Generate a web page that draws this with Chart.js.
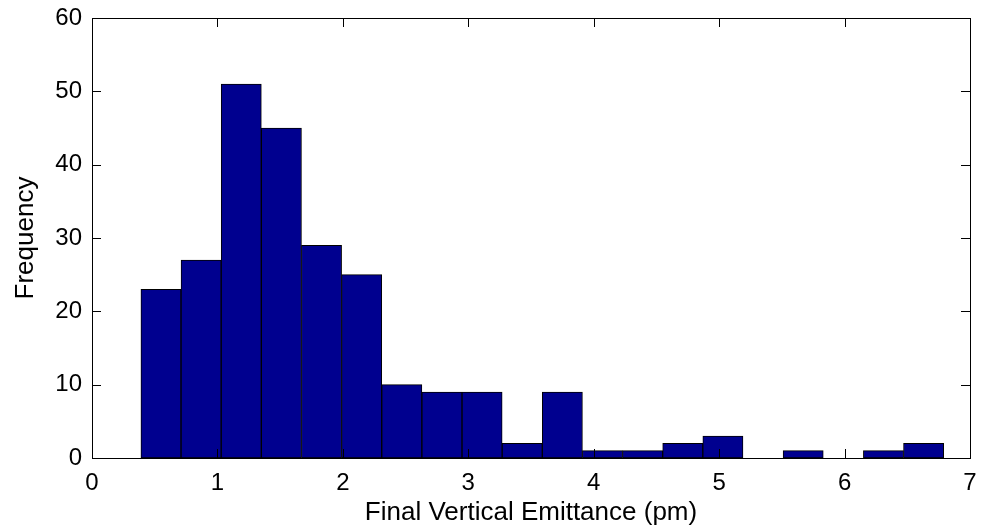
<!DOCTYPE html>
<html>
<head>
<meta charset="utf-8">
<script src="https://cdn.jsdelivr.net/npm/chart.js@4/dist/chart.umd.min.js"></script>
<style>
  html, body { margin: 0; padding: 0; background: #ffffff; }
  #wrap { width: 986px; height: 528px; }
</style>
</head>
<body>
<div id="wrap"><canvas id="c" width="986" height="528"></canvas></div>
<script>
// Histogram bin centres (pm) and counts
const binCenters = [0.55, 0.87, 1.19, 1.51, 1.83, 2.15, 2.47, 2.79, 3.11, 3.43,
                    3.75, 4.07, 4.39, 4.71, 5.03, 5.35, 5.67, 5.99, 6.31, 6.63];
const frequencies = [23, 27, 51, 45, 29, 25, 10, 9, 9, 2,
                     9, 1, 1, 2, 3, 0, 1, 0, 1, 2];
const xTicks = [0, 1, 2, 3, 4, 5, 6, 7];
const yTicks = [0, 10, 20, 30, 40, 50, 60];
const xTitle = 'Final Vertical Emittance (pm)';
const yTitle = 'Frequency';

const FONT = '"Liberation Sans", Arial, Helvetica, sans-serif';

const boxTicks = {
  id: 'boxTicks',
  afterDraw(chart) {
    const ctx = chart.ctx;
    const a = chart.chartArea;
    const xs = chart.scales.x, ys = chart.scales.y;
    const L = 9;
    ctx.save();
    ctx.strokeStyle = '#000000';
    ctx.lineWidth = 1;
    ctx.beginPath();
    xTicks.forEach(v => {
      const p = Math.round(xs.getPixelForValue(v)) + 0.5;
      ctx.moveTo(p, a.bottom); ctx.lineTo(p, a.bottom - L);
      ctx.moveTo(p, a.top); ctx.lineTo(p, a.top + L);
    });
    yTicks.forEach(v => {
      const p = Math.round(ys.getPixelForValue(v)) + 0.5;
      ctx.moveTo(a.left, p); ctx.lineTo(a.left + L, p);
      ctx.moveTo(a.right, p); ctx.lineTo(a.right - L, p);
    });
    ctx.stroke();
    ctx.strokeRect(Math.round(a.left) + 0.5, Math.round(a.top) + 0.5,
                   Math.round(a.right - a.left), Math.round(a.bottom - a.top));
    ctx.restore();
  }
};

new Chart(document.getElementById('c'), {
  type: 'bar',
  data: {
    datasets: [{
      data: binCenters.map((x, i) => ({ x: x, y: frequencies[i] })),
      backgroundColor: '#00008F',
      borderColor: '#000000',
      borderWidth: 1,
      borderSkipped: false,
      barPercentage: 1.0,
      categoryPercentage: 1.0
    }]
  },
  options: {
    responsive: false,
    animation: false,
    events: [],
    layout: { padding: { left: 0, right: 16, top: 18, bottom: 0 } },
    plugins: { legend: { display: false }, tooltip: { enabled: false } },
    scales: {
      x: {
        type: 'linear',
        min: 0, max: 7,
        offset: false,
        afterFit(s) { s.height = 70; s.paddingLeft = 0; s.paddingRight = 0; },
        afterBuildTicks(s) { s.ticks = xTicks.map(v => ({ value: v })); },
        grid: { display: false, drawTicks: false, offset: false },
        border: { display: false },
        ticks: { color: '#000000', font: { family: FONT, size: 24 }, padding: 11, maxRotation: 0,
                 callback: v => String(v) },
        title: { display: true, text: xTitle, color: '#000000',
                 font: { family: FONT, size: 26 }, padding: { top: 0, bottom: 0 } }
      },
      y: {
        min: 0, max: 60,
        afterFit(s) { s.width = 92; s.paddingTop = 0; s.paddingBottom = 0; },
        afterBuildTicks(s) { s.ticks = yTicks.map(v => ({ value: v })); },
        grid: { display: false, drawTicks: false },
        border: { display: false },
        ticks: { color: '#000000', font: { family: FONT, size: 24 }, padding: 10,
                 callback: v => String(v) },
        title: { display: true, text: yTitle, color: '#000000',
                 font: { family: FONT, size: 26 }, padding: { top: 10, bottom: 0 } }
      }
    }
  },
  plugins: [boxTicks]
});
</script>
</body>
</html>
